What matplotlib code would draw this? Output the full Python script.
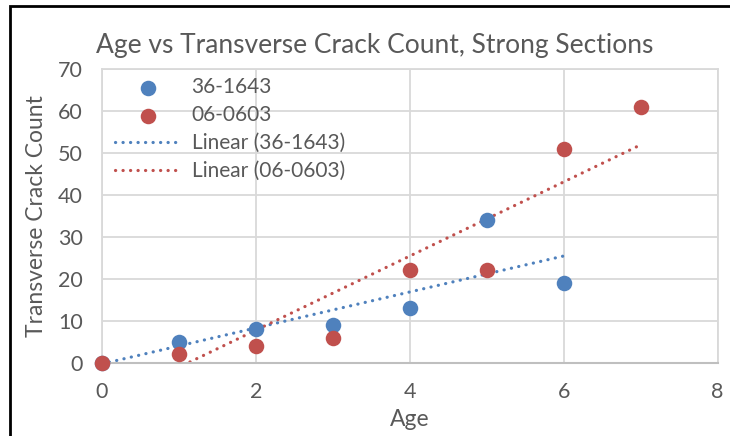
import numpy as np
import matplotlib.pyplot as plt
from matplotlib.patches import Rectangle

ages_a = [0, 1, 2, 3, 4, 5, 6]
counts_a = [0, 5, 8, 9, 13, 34, 19]
ages_b = [0, 1, 2, 3, 4, 5, 6, 7]
counts_b = [0, 2, 4, 6, 22, 22, 51, 61]
names = ["36-1643", "06-0603"]
x_ticks = [0, 2, 4, 6, 8]
y_ticks = [0, 10, 20, 30, 40, 50, 60, 70]

blue = "#4F81BD"
red = "#C0504D"
txt = "#595959"

plt.rcParams["font.family"] = ["Lato", "DejaVu Sans"]

fig = plt.figure(figsize=(7.3, 4.36), dpi=100)
ax = fig.add_axes([102 / 730, 1 - 362.7 / 436, (717.5 - 102) / 730, (362.7 - 69) / 436])

# outer chart frame (left and top visible)
fig.patches.append(Rectangle((10 / 730, -0.1), 1.1, 1 - 6 / 436 + 0.1,
                             transform=fig.transFigure, fill=False,
                             edgecolor="black", linewidth=2))

ax.scatter(ages_a, counts_a, s=125, color=blue, label=names[0], zorder=3,
           linewidths=0, clip_on=False)
ax.scatter(ages_b, counts_b, s=125, color=red, label=names[1], zorder=3,
           linewidths=0, clip_on=False)

for xs, ys, c, n in [(ages_a, counts_a, blue, names[0]), (ages_b, counts_b, red, names[1])]:
    k, b = np.polyfit(xs, ys, 1)
    xx = np.linspace(min(xs), max(xs), 200)
    ax.plot(xx, k * xx + b, color=c, linewidth=2.3, linestyle=(0, (0.05, 2.3)),
            dash_capstyle="round", label="Linear (%s)" % n, zorder=2)

ax.set_xlim(0, 8)
ax.set_ylim(0, 70)
ax.set_xticks(x_ticks)
ax.set_yticks(y_ticks)
ax.grid(True, color="#D9D9D9", linewidth=1.3)
ax.set_axisbelow(True)
for s in ["top", "right", "left"]:
    ax.spines[s].set_color("#D9D9D9")
    ax.spines[s].set_linewidth(1.3)
ax.spines["bottom"].set_color("#BFBFBF")
ax.spines["bottom"].set_linewidth(1.5)
ax.tick_params(length=0, labelsize=15.5, colors=txt)
ax.tick_params(axis="x", pad=14)
ax.tick_params(axis="y", pad=14)

ax.set_xlabel("Age", fontsize=16.5, color=txt, labelpad=5)
ax.set_ylabel("Transverse Crack Count", fontsize=16.5, color=txt, labelpad=8)
fig.text(375 / 730, 1 - 46 / 436, "Age vs Transverse Crack Count, Strong Sections",
         ha="center", va="center", fontsize=19, color=txt)

leg = ax.legend(loc="upper left", bbox_to_anchor=(0.0, 1.015), frameon=False,
                fontsize=15, labelcolor=txt, handlelength=3.2, handletextpad=0.5,
                labelspacing=0.38, borderaxespad=0.2)
leg.set_zorder(5)

fig.savefig("out.png", dpi=100)
